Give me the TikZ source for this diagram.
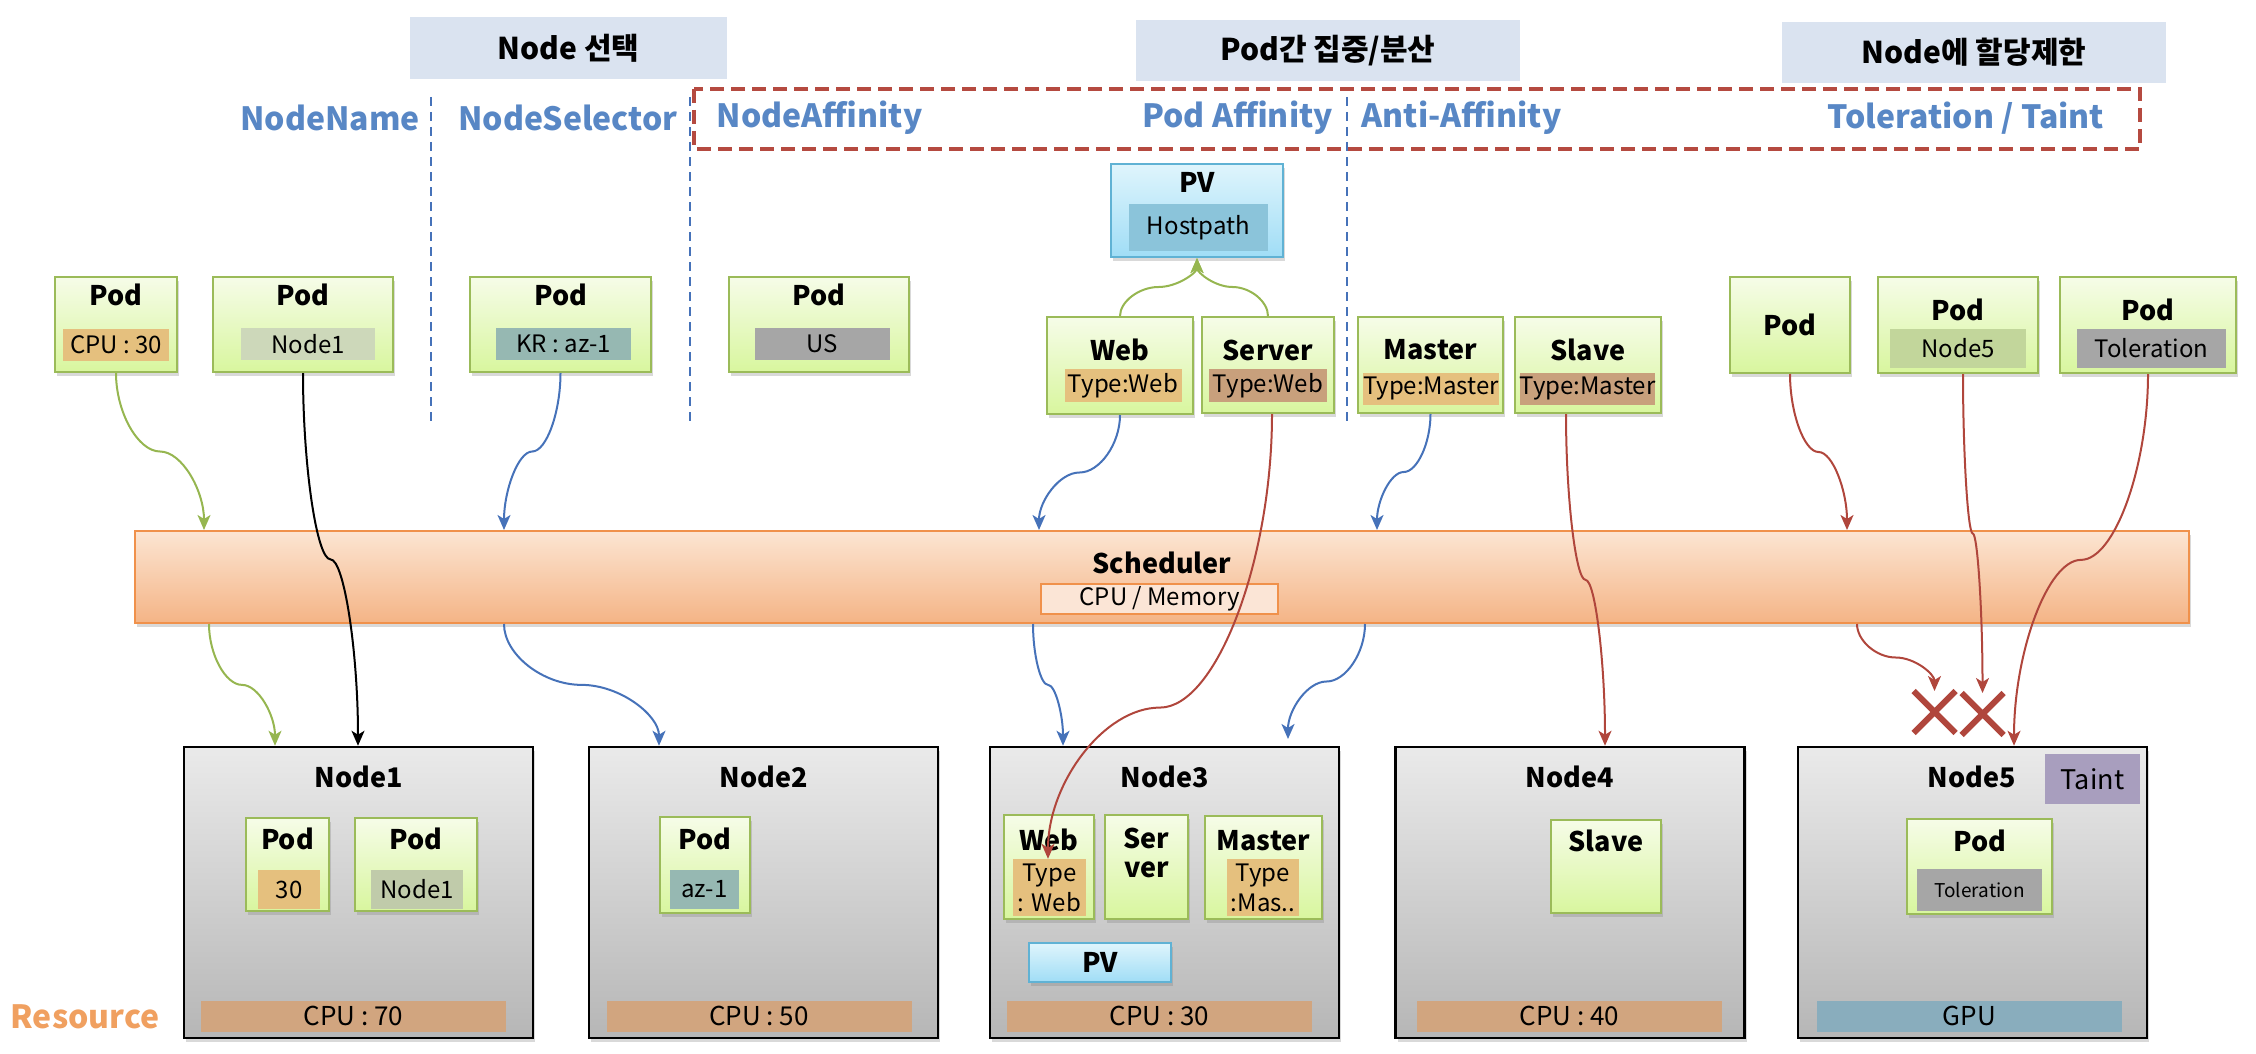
\documentclass[tikz,border=0pt]{standalone}
\usepackage{fontspec}
\setmainfont{Noto Sans CJK KR}
\usepackage{tikz}
\usetikzlibrary{arrows.meta}
\usetikzlibrary{calc}
\usetikzlibrary{shadows}
\usetikzlibrary{shapes.misc}

\definecolor{hdrfill}{RGB}{218,227,240}
\definecolor{lblblue}{RGB}{88,135,197}
\definecolor{dashred}{RGB}{181,74,64}
\definecolor{linered}{RGB}{176,70,60}
\definecolor{lineblue}{RGB}{70,114,185}
\definecolor{linegreen}{RGB}{150,182,80}
\definecolor{podborder}{RGB}{155,187,89}
\definecolor{podtop}{RGB}{246,252,232}
\definecolor{podbot}{RGB}{216,246,158}
\definecolor{tagtan}{RGB}{229,192,126}
\definecolor{tagbrown}{RGB}{200,160,124}
\definecolor{tagsage}{RGB}{205,216,186}
\definecolor{tagsage2}{RGB}{192,203,170}
\definecolor{tagteal}{RGB}{150,184,178}
\definecolor{taggray}{RGB}{166,166,166}
\definecolor{taggreen}{RGB}{194,214,155}
\definecolor{schedtop}{RGB}{252,229,210}
\definecolor{schedbot}{RGB}{244,180,134}
\definecolor{schedborder}{RGB}{240,145,75}
\definecolor{memfill}{RGB}{251,229,214}
\definecolor{nodetop}{RGB}{234,234,234}
\definecolor{nodebot}{RGB}{182,182,182}
\definecolor{cpufill}{RGB}{209,165,127}
\definecolor{gpufill}{RGB}{137,173,189}
\definecolor{pvtop}{RGB}{223,245,252}
\definecolor{pvbot}{RGB}{160,221,246}
\definecolor{pvborder}{RGB}{96,178,212}
\definecolor{hostfill}{RGB}{139,196,218}
\definecolor{taintfill}{RGB}{168,158,190}
\definecolor{resorange}{RGB}{240,160,96}

\tikzset{
  hdrbox/.style={fill=hdrfill, minimum width=384, minimum height=61, inner sep=0, font=\fontsize{30}{36}\selectfont\bfseries},
  lbltext/.style={text=lblblue, inner sep=0, font=\fontsize{32}{38}\selectfont\bfseries},
  podbox/.style={draw=podborder, line width=2, top color=podtop, bottom color=podbot, inner sep=0, drop shadow={opacity=0.3, shadow xshift=2pt, shadow yshift=-4pt}},
  pvbox/.style={draw=pvborder, line width=2, top color=pvtop, bottom color=pvbot, inner sep=0, font=\fontsize{27}{30}\selectfont\bfseries, drop shadow={opacity=0.3, shadow xshift=2pt, shadow yshift=-4pt}},
  podtitle/.style={inner sep=0, font=\fontsize{27}{28}\selectfont\bfseries, align=center},
  tagbox/.style={inner sep=0, font=\fontsize{24}{30}\selectfont, align=center},
  nodebox/.style={draw=black, line width=2.5, top color=nodetop, bottom color=nodebot, minimum width=349, minimum height=291, inner sep=0, drop shadow={opacity=0.3, shadow xshift=2pt, shadow yshift=-4pt}},
  cpubar/.style={fill=cpufill, minimum width=305, minimum height=31, inner sep=0, font=\fontsize{26}{30}\selectfont},
  conn/.style={line width=2, -{Stealth[length=15pt,width=13pt,inset=4pt]}},
  nocross/.style={cross out, draw=linered, line width=6, minimum size=36, inner sep=0},
  sepline/.style={draw=lineblue, line width=1.5, dash pattern=on 9pt off 6pt},
  kink/.style={to path={let \p1=(\tikztostart), \p2=(\tikztotarget), \p3=($(\p1)!0.5!(\p2)$), \p4=($(\p1)!#1!(\p2)$), \p5=(\x3,\y4) in
    .. controls ($(\p1)!0.5!(\x1,\y5)$) and ($(\x1,\y5)!0.5!(\p5)$) .. (\p5)
    .. controls ($(\p5)!0.5!(\x2,\y5)$) and ($(\x2,\y5)!0.5!(\p2)$) .. (\p2)}},
  kink/.default=0.5
}

\begin{document}
\begin{tikzpicture}[x=1pt,y=-1pt]
\useasboundingbox (0,0) rectangle (2256,1054);

% headers
\node[hdrbox, minimum width=317, minimum height=62] (hdr1) at (568.5,48) {Node 선택};
\node[hdrbox] (hdr2) at (1328,50.5) {Pod간 집중/분산};
\node[hdrbox] (hdr3) at (1974,52.5) {Node에 할당제한};

% labels
\node[lbltext] (lbl1) at (330,118) {NodeName};
\node[lbltext] (lbl2) at (568,118) {NodeSelector};
\node[lbltext] (lbl3) at (819.5,118) {NodeAffinity};
\node[lbltext] (lbl4) at (1237.5,118) {Pod Affinity};
\node[lbltext] (lbl5) at (1461.5,118) {Anti-Affinity};
\node[lbltext] (lbl6) at (1966,118) {Toleration / Taint};
\draw[dashred, line width=4.5, dash pattern=on 14pt off 7pt] (694,89) rectangle (2140,149);
\draw[sepline] (431,97) -- (431,426);
\draw[sepline] (690,97) -- (690,426);
\draw[sepline] (1347,97) -- (1347,426);

% pv
\node[pvbox, minimum width=172, minimum height=93] (pv1) at (1197,210.5) {};
\node[podtitle] (pv1t) at (1197,182) {PV};
\node[tagbox, fill=hostfill, minimum width=139, minimum height=47] (pv1v) at (1198.5,227.5) {Hostpath};

% pods
\node[podbox, minimum width=122, minimum height=95] (pod1) at (116,324.5) {};
\node[podtitle] (pod1t) at (116,295) {Pod};
\node[tagbox, fill=tagtan, minimum width=106, minimum height=32] (pod1v) at (116,345) {CPU : 30};
\node[podbox, minimum width=180, minimum height=95] (pod2) at (303,324.5) {};
\node[podtitle] (pod2t) at (303,295) {Pod};
\node[tagbox, fill=tagsage, minimum width=134, minimum height=32] (pod2v) at (308,344) {Node1};
\node[podbox, minimum width=181, minimum height=95] (pod3) at (560.5,324.5) {};
\node[podtitle] (pod3t) at (560.5,295) {Pod};
\node[tagbox, fill=tagteal, minimum width=135, minimum height=32] (pod3v) at (563.5,344) {KR : az-1};
\node[podbox, minimum width=180, minimum height=95] (pod4) at (819,324.5) {};
\node[podtitle] (pod4t) at (819,295) {Pod};
\node[tagbox, fill=taggray, minimum width=135, minimum height=32] (pod4v) at (822.5,344) {US};

\node[podbox, minimum width=146, minimum height=97] (pod5) at (1120,365.5) {};
\node[podtitle] (pod5t) at (1120,350) {Web};
\node[tagbox, fill=tagtan, minimum width=117, minimum height=33] (pod5v) at (1123,385.5) {Type:Web};
\node[podbox, minimum width=132, minimum height=96] (pod6) at (1268,365) {};
\node[podtitle] (pod6t) at (1268,350) {Server};
\node[tagbox, fill=tagbrown, minimum width=118, minimum height=33] (pod6v) at (1268,385.5) {Type:Web};
\node[podbox, minimum width=145, minimum height=96] (pod7) at (1430.5,365) {};
\node[podtitle] (pod7t) at (1430.5,350) {Master};
\node[tagbox, fill=tagtan, minimum width=134, minimum height=32] (pod7v) at (1431,389) {Type:Master};
\node[podbox, minimum width=146, minimum height=96] (pod8) at (1588,365) {};
\node[podtitle] (pod8t) at (1588,350) {Slave};
\node[tagbox, fill=tagbrown, minimum width=135, minimum height=32] (pod8v) at (1587.5,389) {Type:Master};

\node[podbox, minimum width=120, minimum height=96] (pod9) at (1790,325) {};
\node[podtitle] (pod9t) at (1790,325) {Pod};
\node[podbox, minimum width=160, minimum height=96] (pod10) at (1958,325) {};
\node[podtitle] (pod10t) at (1958,310) {Pod};
\node[tagbox, fill=taggreen, minimum width=136, minimum height=39] (pod10v) at (1958,348.5) {Node5};
\node[podbox, minimum width=176, minimum height=96] (pod11) at (2148,325) {};
\node[podtitle] (pod11t) at (2148,310) {Pod};
\node[tagbox, fill=taggray, minimum width=149, minimum height=39] (pod11v) at (2151.5,348.5) {Toleration};

% scheduler
\node[draw=schedborder, line width=2, top color=schedtop, bottom color=schedbot, minimum width=2054, minimum height=92, drop shadow={opacity=0.3, shadow xshift=2pt, shadow yshift=-4pt}] (sched) at (1162,577) {};
\node[podtitle] (schedt) at (1162,563) {Scheduler};
\node[tagbox, draw=schedborder, line width=1.5, fill=memfill, minimum width=237, minimum height=30] (schedv) at (1159.5,599) {CPU / Memory};

% nodes
\node[nodebox] (node1) at (358.5,892.5) {};
\node[podtitle] (node1t) at (358.5,777) {Node1};
\node[cpubar] (cpu1) at (353.5,1016) {CPU : 70};
\node[podbox, minimum width=83, minimum height=93] (n1pod1) at (287.5,864.5) {};
\node[podtitle] (n1pod1t) at (287.5,838.5) {Pod};
\node[tagbox, fill=tagtan, minimum width=62, minimum height=39] (n1pod1v) at (289,889.5) {30};
\node[podbox, minimum width=122, minimum height=93] (n1pod2) at (416,864.5) {};
\node[podtitle] (n1pod2t) at (416,838.5) {Pod};
\node[tagbox, fill=tagsage2, minimum width=92, minimum height=39] (n1pod2v) at (417,889.5) {Node1};

\node[nodebox] (node2) at (763.5,892.5) {};
\node[podtitle] (node2t) at (763.5,777) {Node2};
\node[cpubar] (cpu2) at (759,1016) {CPU : 50};
\node[podbox, minimum width=90, minimum height=96] (n2pod1) at (705,865) {};
\node[podtitle] (n2pod1t) at (705,839) {Pod};
\node[tagbox, fill=tagteal, minimum width=69, minimum height=39] (n2pod1v) at (704.5,889.5) {az-1};

\node[nodebox] (node3) at (1164.5,892.5) {};
\node[podtitle] (node3t) at (1164.5,777) {Node3};
\node[cpubar] (cpu3) at (1159.5,1016) {CPU : 30};
\node[podbox, minimum width=90, minimum height=104] (n3pod1) at (1049,866.5) {};
\node[podtitle] (n3pod1t) at (1049,840) {Web};
\node[tagbox, fill=tagtan, minimum width=73, minimum height=57] (n3pod1v) at (1049.5,887.5) {Type\\: Web};
\node[podbox, minimum width=83, minimum height=104] (n3pod2) at (1146.5,866.5) {};
\node[podtitle, font=\fontsize{27}{29}\selectfont\bfseries] (n3pod2t) at (1146.5,853) {Ser\\ver};
\node[podbox, minimum width=117, minimum height=103] (n3pod3) at (1263.5,867) {};
\node[podtitle] (n3pod3t) at (1263.5,841) {Master};
\node[tagbox, fill=tagtan, minimum width=72, minimum height=57] (n3pod3v) at (1263,887.5) {Type\\:Mas..};
\node[pvbox, minimum width=142, minimum height=39] (pv2) at (1100,962.5) {PV};

\node[nodebox] (node4) at (1570,892.5) {};
\node[podtitle] (node4t) at (1570,777) {Node4};
\node[cpubar] (cpu4) at (1569.5,1016) {CPU : 40};
\node[podbox, minimum width=110, minimum height=93] (n4pod1) at (1606,866.5) {};
\node[podtitle] (n4pod1t) at (1606,841) {Slave};

\node[nodebox] (node5) at (1972.5,892.5) {};
\node[podtitle] (node5t) at (1972,777) {Node5};
\node[cpubar, fill=gpufill] (gpu5) at (1969.5,1016) {GPU};
\node[tagbox, fill=taintfill, minimum width=95, minimum height=50, font=\fontsize{27}{30}\selectfont] (taint5) at (2092.5,779) {Taint};
\node[podbox, minimum width=145, minimum height=95] (n5pod1) at (1979.5,866) {};
\node[podtitle] (n5pod1t) at (1979.5,841) {Pod};
\node[tagbox, fill=taggray, minimum width=125, minimum height=42, font=\fontsize{19}{22}\selectfont] (n5pod1v) at (1979.5,890) {Toleration};

\node[inner sep=0, text=resorange, font=\fontsize{32}{38}\selectfont\bfseries] (res) at (85,1017) {Resource};

% blocked
\node[nocross] (x1) at (1934.5,712) {};
\node[nocross] (x2) at (1982.5,714) {};

% connectors
\draw[conn, linegreen] (pod5.north) to[kink] (pv1.south);
\draw[conn, linegreen] (pod6.north) to[kink] (pv1.south);

\draw[conn, linegreen] (pod1.south) to[kink] (204,0 |- sched.north);
\draw[conn, linegreen] (209,0 |- sched.south) to[kink] (275,0 |- node1.north);
\draw[conn, black] (pod2.south) to[kink] (358,0 |- node1.north);
\draw[conn, lineblue] (pod3.south) to[kink] (504,0 |- sched.north);
\draw[conn, lineblue] (504,0 |- sched.south) to[kink] (659,0 |- node2.north);
\draw[conn, lineblue] (pod5.south) to[kink] (1039,0 |- sched.north);
\draw[conn, lineblue] (1033,0 |- sched.south) to[kink] (1063,0 |- node3.north);
\draw[conn, lineblue] (pod7.south) to[kink] (1377,0 |- sched.north);
\coordinate (m3) at (1288,739);
\draw[conn, lineblue] (1365,0 |- sched.south) to[kink] (m3);

\draw[conn, linered] ([xshift=4pt]pod6.south) to[kink=0.66] (1048,0 |- n3pod1v.north);
\draw[conn, linered] ([xshift=-22pt]pod8.south) to[kink] (1605,0 |- node4.north);
\draw[conn, linered] (pod9.south) to[kink] (1847,0 |- sched.north);
\draw[conn, linered] (1857,0 |- sched.south) to[kink] (x1.north);
\draw[conn, linered] ([xshift=5pt]pod10.south) to[kink] (x2.north);
\draw[conn, linered] (pod11.south) to[kink] (2014,0 |- node5.north);
\end{tikzpicture}
\end{document}
